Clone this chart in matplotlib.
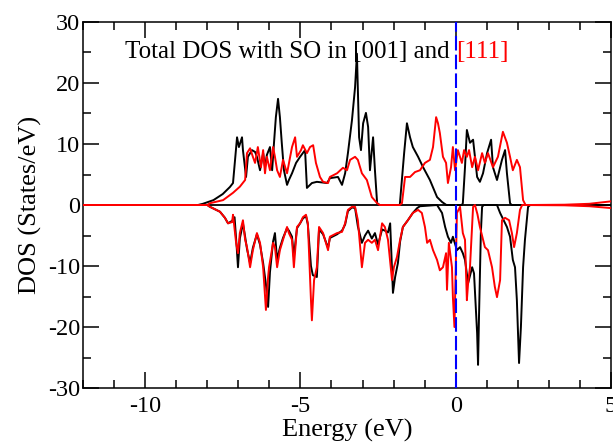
import numpy as np
import matplotlib
matplotlib.use('Agg')
import matplotlib.pyplot as plt
from matplotlib.ticker import MultipleLocator

plt.rcParams['font.family'] = ['Liberation Serif', 'DejaVu Serif']
plt.rcParams['axes.unicode_minus'] = False

#%% Datos (E en eV, DOS en estados/eV)

# [001] spin up (negro, positivo)
E_001_up = [-12, -8.3, -8.14, -7.8, -7.5, -7.27, -7.17, -7.04, -6.98, -6.88, -6.85, -6.75, -6.69,
            -6.56, -6.46, -6.40, -6.30, -6.2, -6.14, -6.08, -5.98, -5.91, -5.85, -5.79, -5.72,
            -5.66, -5.6, -5.53, -5.43, -5.37, -5.27, -5.14, -5.01, -4.85, -4.79, -4.63, -4.47,
            -4.14, -4.05, -3.79, -3.66, -3.56, -3.47, -3.34, -3.24, -3.18, -3.11, -3.05, -2.98,
            -2.89, -2.82, -2.76, -2.66, -2.6, -2.53, -2.45, -1.8, -1.66, -1.57, -1.47, -1.38,
            -1.21, -1.05, -0.83, -0.6, -0.44, -0.3, 0.2, 0.23, 0.3, 0.36, 0.46, 0.56, 0.62,
            0.69, 0.78, 0.88, 1.01, 1.14, 1.2, 1.33, 1.49, 1.59, 1.65, 1.75, 1.8, 5]
D_001_up = [0, 0, 0.2, 0.8, 1.8, 2.95, 3.6, 11.1, 9.5, 11.1, 9.0, 4.6, 7.9,
            9.0, 8.7, 7.9, 5.7, 8.5, 6.2, 8.2, 9.5, 5.7, 10.2, 14.4, 17.4,
            14.4, 10.2, 5.7, 3.3, 4.1, 5.2, 6.9, 7.9, 9.0, 2.8, 3.6, 3.8,
            3.6, 4.4, 4.6, 3.3, 5.2, 8.5, 13.9, 19.3, 24.8, 11.1, 9.0, 13.4,
            15.1, 12.8, 5.7, 11.1, 5.7, 0.3, 0, 0, 8.5, 13.4, 11.1, 9.5,
            7.9, 6.2, 4.1, 1.3, 0.5, 0, 0, 0.3, 6.2, 12.3, 10.2, 10.7, 7.9,
            4.6, 3.8, 5.2, 8.5, 10.7, 6.2, 4.1, 7.4, 9.0, 5.2, 0.3, 0, 0]

# [001] spin down (negro, negativo)
E_001_dn = [-12, -8.0, -7.91, -7.59, -7.43, -7.33, -7.2, -7.12, -7.05, -7.01, -6.95, -6.85, -6.78,
            -6.72, -6.62, -6.53, -6.4, -6.3, -6.2, -6.11, -6.04, -5.98, -5.88, -5.82, -5.75,
            -5.66, -5.56, -5.43, -5.37, -5.27, -5.21, -5.11, -5.01, -4.92, -4.82, -4.76, -4.66,
            -4.6, -4.47, -4.4, -4.27, -4.11, -4.05, -3.82, -3.66, -3.56, -3.47, -3.34, -3.24,
            -3.15, -3.02, -2.92, -2.82, -2.7, -2.6, -2.5, -2.37, -2.28, -2.18, -2.11, -2.02,
            -1.95, -1.86, -1.79, -1.7, -1.54, -1.38, -1.24, -1.15, -0.6, -0.44, -0.34, -0.25,
            -0.15, -0.09, 0.04, 0.14, 0.23, 0.3, 0.4, 0.53, 0.59, 0.69, 0.72, 0.75, 0.81, 0.85,
            0.9, 1.33, 1.43, 1.65, 1.75, 1.84, 1.91, 1.97, 2.04, 2.1, 2.17, 2.23, 2.33, 2.4, 5]
D_001_dn = [0, 0, -0.3, -1.1, -2.1, -3.0, -2.6, -2.0, -7.0, -10.2, -5.5, -3.0, -5.2,
            -7.2, -9.5, -7.0, -4.8, -6.5, -9.5, -13.0, -16.7, -11.0, -6.0, -4.6, -9.0,
            -7.0, -5.4, -3.8, -4.2, -5.2, -8.5, -3.8, -3.0, -2.2, -1.8, -3.2, -10.0,
            -11.5, -11.8, -4.0, -4.8, -7.0, -5.4, -4.8, -4.2, -3.2, -1.0, -0.4, -0.5,
            -3.5, -6.2, -5.0, -4.2, -5.5, -4.6, -6.5, -4.0, -4.2, -4.5, -3.0, -14.4,
            -11.8, -9.5, -6.0, -3.6, -2.5, -1.3, -0.5, -0.2, 0, -1.3, -3.6, -5.2,
            -6.2, -5.2, -7.4, -6.9, -7.9, -9.0, -12.8, -10.2, -11.2, -21.0, -26.2, -18.4, -4.6, -0.3,
            0, 0, -1.3, -3.6, -5.2, -9.0, -10.2, -15.6, -25.9, -20.0, -10.2, -5.7, -0.3, 0, 0]

# [111] spin up (rojo, positivo)
E_111_up = [-12, -8.0, -7.91, -7.49, -7.17, -6.95, -6.78, -6.72, -6.62, -6.53, -6.46, -6.37, -6.27,
            -6.2, -6.14, -6.08, -5.98, -5.88, -5.82, -5.75, -5.66, -5.56, -5.43, -5.27, -5.17,
            -5.11, -4.98, -4.92, -4.79, -4.69, -4.59, -4.5, -4.37, -4.27, -4.11, -4.05, -3.82,
            -3.63, -3.5, -3.4, -3.24, -3.15, -3.02, -2.86, -2.7, -2.53, -2.45, -1.8, -1.73,
            -1.63, -1.47, -1.31, -1.15, -0.99, -0.83, -0.73, -0.63, -0.57, -0.51, -0.41, -0.31,
            -0.25, -0.15, -0.09, -0.02, 0.07, 0.2, 0.27, 0.36, 0.43, 0.53, 0.62, 0.72, 0.85,
            0.94, 1.04, 1.2, 1.36, 1.52, 1.65, 1.75, 1.84, 1.97, 2.07, 2.17, 2.25, 3.5, 4.3, 5]
D_111_up = [0, 0, 0.3, 0.8, 2.0, 3.0, 4.1, 8.5, 9.3, 7.9, 6.9, 9.5, 6.2,
            9.0, 5.2, 7.9, 5.7, 9.5, 7.9, 5.7, 4.6, 7.4, 5.2, 9.5, 11.1,
            7.9, 9.0, 9.8, 8.5, 9.5, 9.8, 6.9, 4.6, 3.8, 3.6, 4.6, 5.2,
            6.1, 5.7, 7.4, 7.9, 7.4, 5.2, 4.1, 1.3, 0.3, 0, 0, 0.3,
            4.6, 4.6, 5.4, 5.7, 6.9, 7.4, 9.5, 14.4, 13.4, 11.8, 7.9, 6.9,
            3.6, 6.2, 9.5, 5.7, 9.0, 6.9, 9.0, 7.9, 9.0, 6.2, 7.9, 5.7, 8.5,
            6.9, 8.5, 6.2, 7.9, 12.0, 10.2, 7.9, 5.7, 7.4, 6.2, 0.8, 0, 0.05, 0.2, 0.6]

# [111] spin down (rojo, negativo)
E_111_dn = [-12, -8.0, -7.91, -7.59, -7.43, -7.33, -7.2, -7.17, -7.07, -7.01, -6.95, -6.85, -6.78,
            -6.72, -6.62, -6.53, -6.4, -6.3, -6.2, -6.11, -6.04, -6.01, -5.88, -5.82, -5.75,
            -5.66, -5.56, -5.43, -5.37, -5.27, -5.21, -5.11, -5.01, -4.92, -4.82, -4.76, -4.66,
            -4.63, -4.56, -4.47, -4.4, -4.27, -4.11, -4.05, -3.82, -3.66, -3.56, -3.47, -3.34,
            -3.24, -3.15, -3.02, -2.92, -2.82, -2.7, -2.6, -2.5, -2.37, -2.28, -2.18, -2.05,
            -1.99, -1.89, -1.79, -1.7, -1.54, -1.38, -1.21, -1.09, -0.99, -0.92, -0.83, -0.73,
            -0.6, -0.51, -0.41, -0.31, -0.28, -0.22, -0.12, -0.09, -0.04, 0.04, 0.14, 0.23, 0.3,
            0.36, 0.4, 0.46, 0.56, 0.62, 0.7, 0.78, 0.94, 1.04, 1.17, 1.26, 1.33, 1.43, 1.49,
            1.59, 1.72, 1.81, 1.88, 1.97, 2.07, 2.14, 3.5, 4.3, 5]
D_111_dn = [0, 0, -0.3, -1.1, -2.1, -3.0, -2.8, -1.6, -6.2, -7.9, -4.6, -2.5, -5.7,
            -6.9, -10.2, -7.4, -4.6, -6.2, -10.2, -17.2, -11.8, -10.2, -6.2, -6.9, -10.2,
            -7.4, -5.7, -3.6, -4.6, -5.7, -10.2, -3.6, -3.0, -2.0, -1.6, -3.0, -15.6,
            -18.9, -12.3, -10.2, -3.6, -4.6, -7.4, -5.2, -4.6, -4.4, -3.0, -0.8, -0.3,
            -0.3, -2.5, -10.2, -6.2, -5.7, -6.2, -5.7, -7.4, -3.0, -3.6, -5.7, -12.3,
            -10.2, -8.5, -5.7, -3.6, -2.5, -1.3, -0.8, -1.3, -3.6, -6.2, -5.7, -7.4,
            -9.0, -10.7, -10.2, -7.9, -13.9, -6.2, -10.2, -15.1, -20.0, -1.3, -0.3, -4.6, -5.7,
            -15.6, -12.8, -10.2, -0.3, 0, -1.5, -3.6, -6.9, -7.4, -10.2, -13.4, -15.1, -12.3, -2.5,
            -2.1, -2.5, -4.6, -6.9, -4.6, -0.8, 0, -0.05, -0.2, -0.5]

xticks = [-10, -5, 0, 5]
yticks = [-30, -20, -10, 0, 10, 20, 30]

#%% Plot
fig = plt.figure(figsize=(6.13, 4.45), dpi=100)
ax = fig.add_axes([0.1354, 0.128, 0.8613, 0.8226])

ax.axhline(0, color='k', lw=1.3, zorder=1)
ax.plot(E_001_up, D_001_up, color='k', lw=1.4, zorder=2)
ax.plot(E_001_dn, D_001_dn, color='k', lw=1.4, zorder=2)
ax.plot(E_111_up, D_111_up, color='red', lw=1.4, zorder=3)
ax.plot(E_111_dn, D_111_dn, color='red', lw=1.4, zorder=3)
ax.axvline(0, color='blue', lw=1.5, ls=(0, (7, 2)), zorder=4)

ax.set_xlim(-12, 5)
ax.set_ylim(-30, 30)
ax.set_xticks(xticks)
ax.set_yticks(yticks)
ax.xaxis.set_minor_locator(MultipleLocator(1))
ax.yaxis.set_minor_locator(MultipleLocator(5))
ax.tick_params(which='both', direction='in', top=True, right=True, width=1.1, labelsize=17.5)
ax.tick_params(which='major', length=11.5)
ax.tick_params(which='minor', length=6)
ax.tick_params(axis='x', pad=6)
ax.tick_params(axis='y', pad=2)
for s in ax.spines.values():
    s.set_linewidth(1.1)

ax.set_xlabel('Energy (eV)', fontsize=19, labelpad=1)
ax.set_ylabel('DOS (States/eV)', fontsize=19, labelpad=4)

t1 = ax.text(-10.65, 25.0, 'Total DOS with SO in [001] and ', fontsize=18, va='center', ha='left')
ax.annotate('[111]', xy=(1, 0), xycoords=t1, va='bottom', ha='left', fontsize=18, color='red')

plt.savefig('out.png', dpi=100)
